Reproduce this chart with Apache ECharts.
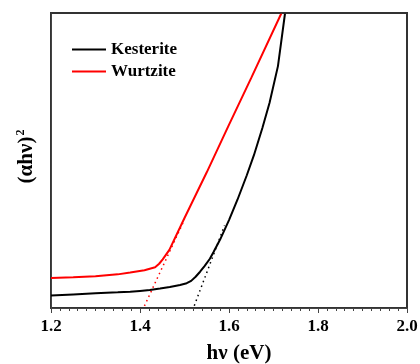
<!DOCTYPE html>
<html>
<head>
<meta charset="utf-8">
<script src="https://cdn.jsdelivr.net/npm/echarts@6/dist/echarts.min.js"></script>
<style>
  html, body { margin: 0; padding: 0; background: #fff; }
  #chart { width: 420px; height: 364px; }
</style>
</head>
<body>
<div id="chart"></div>
<script>
// y is arbitrary units (no y labels)
var kesteriteX = [1.2, 1.25, 1.3, 1.35, 1.378, 1.4, 1.422, 1.445, 1.467, 1.49, 1.505, 1.515, 1.525, 1.535, 1.545, 1.557, 1.565, 1.58, 1.6, 1.619, 1.64, 1.656, 1.675, 1.691, 1.71, 1.726];
var kesteriteY = [4.2, 4.6, 5.0, 5.3, 5.5, 5.8, 6.1, 6.6, 7.1, 7.8, 8.4, 9.2, 10.6, 12.3, 14.2, 16.7, 18.9, 23.2, 29.8, 36.7, 45, 51.8, 61, 69.5, 82, 100];
var wurtziteX = [1.2, 1.25, 1.3, 1.35, 1.378, 1.41, 1.434, 1.443, 1.451, 1.466, 1.5, 1.55, 1.598, 1.65, 1.718];
var wurtziteY = [10.2, 10.4, 10.8, 11.4, 12.0, 12.8, 13.8, 15.0, 16.5, 19.7, 30.5, 46, 61.5, 78, 100];
var tangentK = [[1.522, 0.8], [1.59, 28]];
var tangentW = [[1.41, 0.7], [1.5, 30]];

var xMin = 1.2, xMax = 2.0, yMin = 0, yMax = 100;

function pairs(xs, ys) {
  var out = [];
  for (var i = 0; i < xs.length; i++) out.push([xs[i], ys[i]]);
  return out;
}

var font = '"Liberation Serif", "Times New Roman", serif';
var chart = echarts.init(document.getElementById('chart'));
var option = {
  backgroundColor: '#ffffff',
  animation: false,
  grid: { left: 51, right: 13, top: 13, bottom: 56, containLabel: false, outerBoundsMode: 'none',
    show: true, borderWidth: 2, borderColor: '#333' },
  legend: {
    left: 67, top: 36, orient: 'vertical', itemGap: 5,
    itemWidth: 34, itemHeight: 14,
    icon: 'path://M0,6 L34,6 L34,8 L0,8 Z',
    textStyle: { fontFamily: font, fontWeight: 'bold', fontSize: 17, color: '#000' },
    data: ['Kesterite', 'Wurtzite']
  },
  xAxis: {
    type: 'value', min: xMin, max: xMax, interval: 0.2,
    name: 'hν (eV)', nameLocation: 'middle', nameGap: 35,
    nameTextStyle: { fontFamily: font, fontWeight: 'bold', fontSize: 21, color: '#000', padding: [0, 0, 0, 20] },
    axisLine: { onZero: false, lineStyle: { color: '#444' } },
    axisTick: { inside: false, length: 5, lineStyle: { color: '#444' } },
    minorTick: { show: true, splitNumber: 10, length: 3, lineStyle: { color: '#444' } },
    splitLine: { show: false },
    axisLabel: { fontFamily: font, fontWeight: 'bold', fontSize: 17, color: '#000', margin: 10,
      formatter: function (v) { return v.toFixed(1); } }
  },
  yAxis: {
    type: 'value', min: yMin, max: yMax,
    name: '{a|(αhν)}{s|2}', nameLocation: 'middle', nameGap: 12, nameRotate: 90,
    nameTextStyle: {
      padding: [0, 0, 0, 8],
      rich: {
        a: { fontFamily: font, fontWeight: 'bold', fontSize: 21, color: '#000' },
        s: { fontFamily: font, fontWeight: 'bold', fontSize: 12, color: '#000', padding: [0, 0, 12, 1] }
      }
    },
    axisLine: { show: true, onZero: false, lineStyle: { color: '#444' } },
    axisTick: { show: false },
    axisLabel: { show: false },
    splitLine: { show: false }
  },
  series: [
    { name: 'Kesterite', type: 'line', symbol: 'none',
      data: pairs(kesteriteX, kesteriteY), color: '#000', lineStyle: { width: 2, color: '#000' } },
    { name: 'Wurtzite', type: 'line', symbol: 'none',
      data: pairs(wurtziteX, wurtziteY), color: '#ff0000', lineStyle: { width: 2, color: '#ff0000' } },
    { name: 'tk', type: 'line', symbol: 'none', data: tangentK,
      lineStyle: { width: 1.5, color: '#000', type: [1.5, 3.5] } },
    { name: 'tw', type: 'line', symbol: 'none', data: tangentW,
      lineStyle: { width: 1.5, color: '#ff0000', type: [1.5, 3.5] } },
    // top and right edges of the box
    { name: 'frame', type: 'line', symbol: 'none', silent: true, clip: false, z: 10,
      data: [[xMin, yMax], [xMax, yMax], [xMax, yMin]],
      lineStyle: { width: 1.5, color: '#333' } }
  ]
};
chart.setOption(option);
</script>
</body>
</html>
